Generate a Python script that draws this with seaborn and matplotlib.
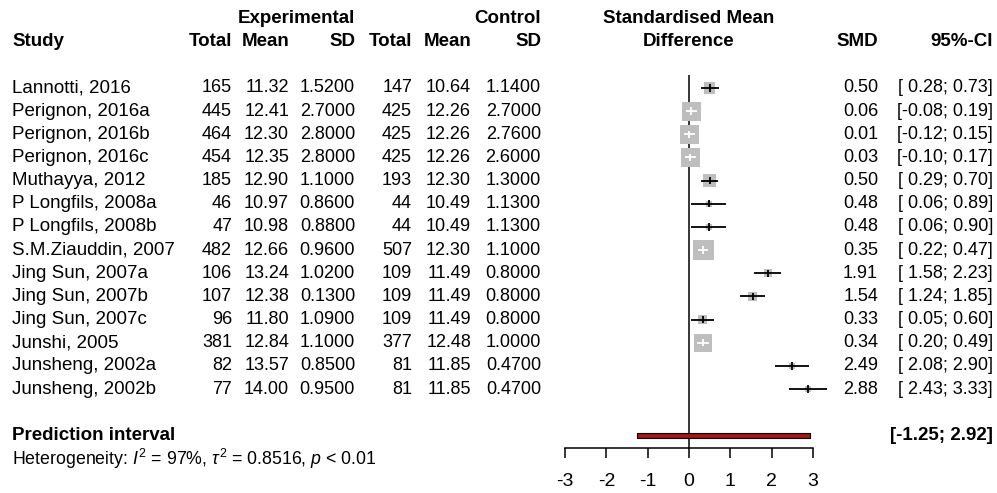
import numpy as np
import pandas as pd
import seaborn as sns
import matplotlib.pyplot as plt
from matplotlib import transforms

# study data
studies = ["Lannotti, 2016", "Perignon, 2016a", "Perignon, 2016b", "Perignon, 2016c",
           "Muthayya, 2012", "P Longfils, 2008a", "P Longfils, 2008b", "S.M.Ziauddin, 2007",
           "Jing Sun, 2007a", "Jing Sun, 2007b", "Jing Sun, 2007c", "Junshi, 2005",
           "Junsheng, 2002a", "Junsheng, 2002b"]
exp_total = [165, 445, 464, 454, 185, 46, 47, 482, 106, 107, 96, 381, 82, 77]
exp_mean = [11.32, 12.41, 12.30, 12.35, 12.90, 10.97, 10.98, 12.66, 13.24, 12.38, 11.80, 12.84, 13.57, 14.00]
exp_sd = [1.52, 2.70, 2.80, 2.80, 1.10, 0.86, 0.88, 0.96, 1.02, 0.13, 1.09, 1.10, 0.85, 0.95]
ctrl_total = [147, 425, 425, 425, 193, 44, 44, 507, 109, 109, 109, 377, 81, 81]
ctrl_mean = [10.64, 12.26, 12.26, 12.26, 12.30, 10.49, 10.49, 12.30, 11.49, 11.49, 11.49, 12.48, 11.85, 11.85]
ctrl_sd = [1.14, 2.70, 2.76, 2.60, 1.30, 1.13, 1.13, 1.10, 0.80, 0.80, 0.80, 1.00, 0.47, 0.47]
smd = [0.50, 0.06, 0.01, 0.03, 0.50, 0.48, 0.48, 0.35, 1.91, 1.54, 0.33, 0.34, 2.49, 2.88]
ci_low = [0.28, -0.08, -0.12, -0.10, 0.29, 0.06, 0.06, 0.22, 1.58, 1.24, 0.05, 0.20, 2.08, 2.43]
ci_high = [0.73, 0.19, 0.15, 0.17, 0.70, 0.89, 0.90, 0.47, 2.23, 1.85, 0.60, 0.49, 2.90, 3.33]
# approximate study weights (%) -> square area
weight = [5.3, 14.6, 14.6, 14.6, 6.3, 1.5, 1.5, 17.0, 2.5, 2.9, 3.5, 12.7, 1.6, 1.3]
pred_low, pred_high = -1.25, 2.92
x_ticks = [-3, -2, -1, 0, 1, 2, 3]

df = pd.DataFrame({"study": studies, "smd": smd, "lo": ci_low, "hi": ci_high,
                   "weight": weight})
df["row"] = np.arange(len(df))

sns.set_theme(style="white")
plt.rcParams["font.family"] = ["Liberation Sans", "DejaVu Sans"]
plt.rcParams["text.color"] = "black"
plt.rcParams["mathtext.fontset"] = "custom"
plt.rcParams["mathtext.rm"] = "Liberation Sans"
plt.rcParams["mathtext.it"] = "Liberation Sans:italic"

W, H = 997, 493
fs = 13.5      # labels
fs_num = 13    # numbers in the table
fig = plt.figure(figsize=(W / 100, H / 100), dpi=100)
x0, x1 = 565, 813  # pixel span of -3..3
ax = fig.add_axes([x0 / W, 0, (x1 - x0) / W, 1])
ax.patch.set_visible(False)
ax.set_xlim(-3, 3)
ax.set_ylim(17.49, -3.80)

axis_row = 15.55
pred_row = 15
het_row = 16

# zero line
ax.vlines(0, -0.56, axis_row, color="black", lw=1.1, zorder=1)

# squares
scale = 13.0
sns.scatterplot(data=df, x="smd", y="row", size="weight", marker="s",
                sizes=(min(weight) * scale, max(weight) * scale),
                size_norm=(min(weight), max(weight)),
                color="#bebebe", linewidth=0, legend=False, ax=ax,
                clip_on=False, zorder=2)

# confidence intervals, white where they sit inside the square
px_per_unit = (x1 - x0) / 6
for _, r in df.iterrows():
    side_px = np.sqrt(scale * r["weight"]) / 0.72
    inside = (r["hi"] - r["lo"]) * px_per_unit < side_px
    c = "white" if inside else "black"
    ax.hlines(r["row"], r["lo"], r["hi"], color=c, lw=1.3, zorder=3, clip_on=False)
    ax.vlines(r["smd"], r["row"] - 0.16, r["row"] + 0.16, color=c, lw=1.3,
              zorder=3, clip_on=False)

# prediction interval
ax.barh(pred_row, pred_high - pred_low, left=pred_low, height=0.22,
        color="#a0161b", edgecolor="black", linewidth=0.8, zorder=2)

# axis
for s in ["top", "left", "right"]:
    ax.spines[s].set_visible(False)
ax.spines["bottom"].set_position(("data", axis_row))
ax.spines["bottom"].set_color("black")
ax.spines["bottom"].set_linewidth(1.1)
ax.set_xticks(x_ticks)
ax.set_xticklabels([str(t) for t in x_ticks])
ax.set_yticks([])
ax.tick_params(axis="x", bottom=True, direction="out", length=7.2, width=1.1,
               colors="black", labelsize=14, pad=11)
ax.set_xlabel("")
ax.set_ylabel("")

# text columns
tr = transforms.blended_transform_factory(fig.transFigure, ax.transData)


def put(xpx, row, s, ha="right", bold=False, size=fs):
    ax.text(xpx / W, row, s, transform=tr, ha=ha, va="center", fontsize=size,
            fontweight="bold" if bold else "normal", color="black")


cols = {"et": 232, "em": 289, "es": 355, "ct": 412, "cm": 471, "cs": 541,
        "smd": 878, "ci": 993}

put(cols["es"], -3, "Experimental", bold=True)
put(cols["cs"], -3, "Control", bold=True)
put(12, -2, "Study", ha="left", bold=True)
for key, lab in [("et", "Total"), ("em", "Mean"), ("es", "SD"),
                 ("ct", "Total"), ("cm", "Mean"), ("cs", "SD"),
                 ("smd", "SMD"), ("ci", "95%-CI")]:
    put(cols[key], -2, lab, bold=True)
ax.text(0, -3, "Standardised Mean", ha="center", va="center", fontsize=fs,
        fontweight="bold", color="black")
ax.text(0, -2, "Difference", ha="center", va="center", fontsize=fs,
        fontweight="bold", color="black")

for i in range(len(studies)):
    put(12, i, studies[i], ha="left")
    put(cols["et"], i, f"{exp_total[i]}", size=fs_num)
    put(cols["em"], i, f"{exp_mean[i]:.2f}", size=fs_num)
    put(cols["es"], i, f"{exp_sd[i]:.4f}", size=fs_num)
    put(cols["ct"], i, f"{ctrl_total[i]}", size=fs_num)
    put(cols["cm"], i, f"{ctrl_mean[i]:.2f}", size=fs_num)
    put(cols["cs"], i, f"{ctrl_sd[i]:.4f}", size=fs_num)
    put(cols["smd"], i, f"{smd[i]:.2f}", size=fs_num)
    put(cols["ci"], i, f"[{ci_low[i]:5.2f}; {ci_high[i]:.2f}]", size=fs_num)

put(12, pred_row, "Prediction interval", ha="left", bold=True)
put(cols["ci"], pred_row, f"[{pred_low:.2f}; {pred_high:.2f}]", bold=True)
put(12, het_row, r"Heterogeneity: $I^2$ = 97%, $\tau^2$ = 0.8516, $p$ < 0.01",
    ha="left", size=12.8)

fig.savefig("out.png", dpi=100)
